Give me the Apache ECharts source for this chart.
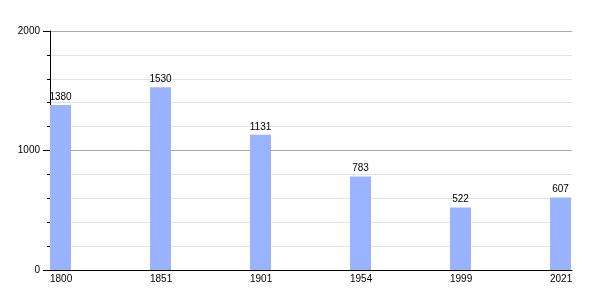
<!DOCTYPE html>
<html>
<head>
<meta charset="utf-8">
<script src="https://cdn.jsdelivr.net/npm/echarts@6/dist/echarts.min.js"></script>
<style>
html,body{margin:0;padding:0;background:#fff;}
#chart{width:600px;height:300px;}
</style>
</head>
<body>
<div id="chart"></div>
<script>
const years = ['1800', '1851', '1901', '1954', '1999', '2021'];
const population = [1380, 1530, 1131, 783, 522, 607];
const yTicks = [0, 1000, 2000];

const font = '"Liberation Sans", Arial, sans-serif';
const chart = echarts.init(document.getElementById('chart'), null, {renderer: 'canvas'});
chart.setOption({
  animation: false,
  backgroundColor: '#ffffff',
  grid: [
    {left: 50, right: 28, top: 31, bottom: 30},
    {left: 50, width: 500, top: 31, bottom: 30}
  ],
  xAxis: [
    {
      gridIndex: 0, type: 'value', min: 0, max: 1,
      axisLine: {show: true, onZero: false, lineStyle: {color: '#000', width: 1}},
      axisTick: {show: false}, axisLabel: {show: false}, splitLine: {show: false}
    },
    {
      gridIndex: 1, type: 'category', data: years, boundaryGap: false,
      axisLine: {show: false}, axisTick: {show: false}, splitLine: {show: false},
      axisLabel: {
        show: true, align: 'left', margin: 4, interval: 0,
        color: '#000', fontSize: 10, fontFamily: font
      }
    }
  ],
  yAxis: [
    {
      gridIndex: 0, type: 'value', min: yTicks[0], max: yTicks[yTicks.length - 1], interval: 1000,
      axisLine: {show: true, lineStyle: {color: '#000', width: 1}},
      axisTick: {show: true, length: 7, lineStyle: {color: '#000'}},
      minorTick: {show: true, splitNumber: 5, length: 3, lineStyle: {color: '#000'}},
      splitLine: {show: true, lineStyle: {color: '#a8a8a8', width: 1}},
      minorSplitLine: {show: true, lineStyle: {color: '#e2e2e2', width: 1}},
      axisLabel: {
        margin: 10, color: '#000', fontSize: 10, fontFamily: font,
        formatter: v => String(v)
      }
    },
    {
      gridIndex: 1, type: 'value', min: yTicks[0], max: yTicks[yTicks.length - 1],
      show: false, splitLine: {show: false}
    }
  ],
  series: [
    {
      type: 'bar', xAxisIndex: 1, yAxisIndex: 1,
      data: years.map(() => 0), barWidth: 21, barGap: '0%',
      itemStyle: {color: 'rgba(0,0,0,0)'}, silent: true
    },
    {
      type: 'bar', xAxisIndex: 1, yAxisIndex: 1,
      data: population, barWidth: 21, barGap: '0%',
      itemStyle: {color: '#99b3ff'},
      label: {
        show: true, position: 'top', distance: 3,
        color: '#000', fontSize: 10, fontFamily: font
      }
    }
  ]
});
</script>
</body>
</html>
